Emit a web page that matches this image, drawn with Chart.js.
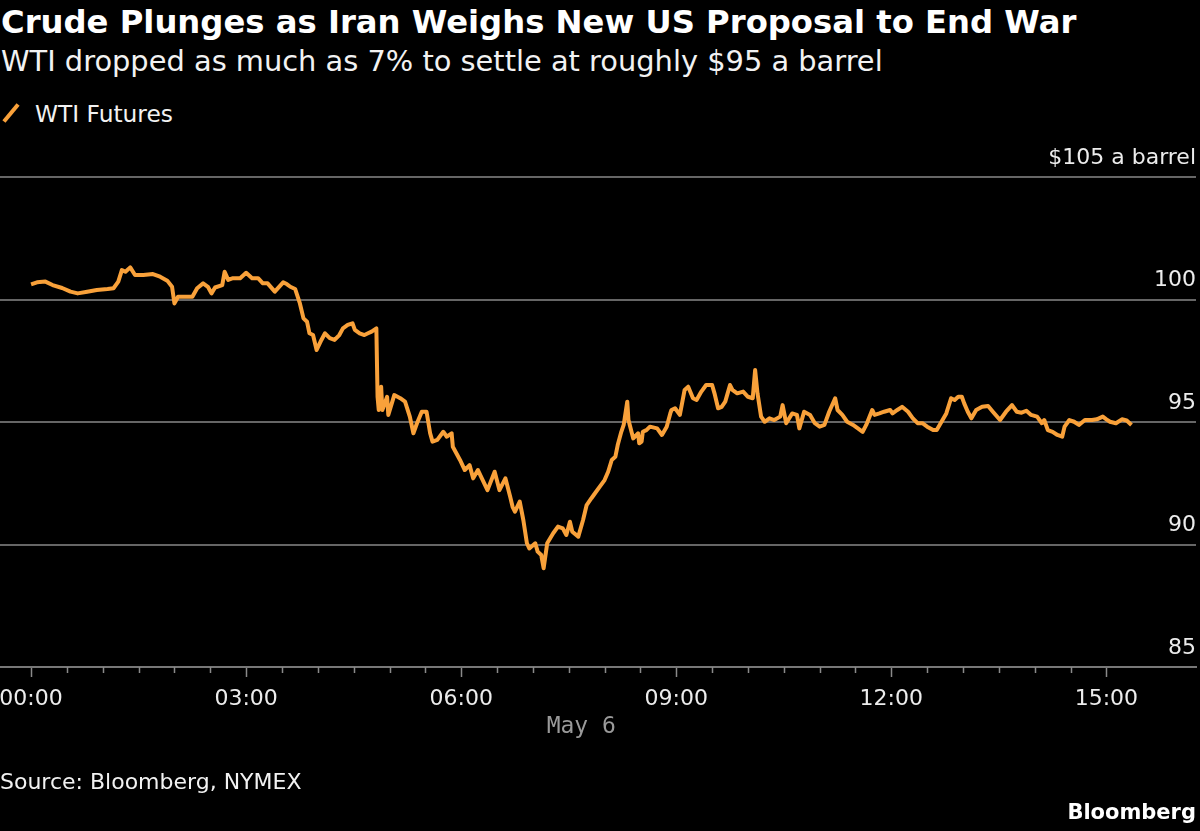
<!DOCTYPE html>
<html>
<head>
<meta charset="utf-8">
<script src="https://cdn.jsdelivr.net/npm/chart.js@4.4.1/dist/chart.umd.min.js"></script>
<style>
  body { margin:0; background:#000; width:1200px; height:831px; overflow:hidden; position:relative; font-family:"DejaVu Sans", sans-serif; color:#fff; }
  #wrap { position:absolute; left:0; top:0; width:1200px; height:831px; }
  .txt { position:absolute; white-space:nowrap; line-height:1; }
  #title { left:1px; top:6px; font-size:30px; font-weight:700; color:#fff; }
  #subtitle { left:1px; top:47px; font-size:25px; color:#f2f2f2; }
  #legend { left:35px; top:102px; font-size:21px; color:#f2f2f2; }
  #legendMark { position:absolute; left:9px; top:102px; width:4px; height:22px; background:#f9a13a; transform:rotate(40deg); }
  #source { left:0px; top:771px; font-size:22px; color:#f2f2f2; }
  #brand { right:4px; top:802px; font-size:21px; font-weight:700; color:#fff; }
</style>
</head>
<body>
<div class="txt" id="title">Crude Plunges as Iran Weighs New US Proposal to End War</div>
<div class="txt" id="subtitle">WTI dropped as much as 7% to settle at roughly $95 a barrel</div>
<div id="legendMark"></div>
<div class="txt" id="legend">WTI Futures</div>
<div id="wrap"><canvas id="graph"></canvas></div>
<div class="txt" id="source">Source: Bloomberg, NYMEX</div>
<div class="txt" id="brand">Bloomberg</div>
<script>
/*********************************** Data ***********************************/
// minutes after midnight, May 6
const timesMin = [0,5,12,18,26,33,39,47,55,64,69,73,76,79,83,87,94,102,108,114,118,120,123,127,135,139,144,148,151,154,160,162,165,169,175,180,185,190,194,198,204,211,214,217,221,
  225,228,231,233,236,239,243,246,250,254,258,261,265,269,271,275,279,282,285,289,290,291,293,294,298,299,304,309,313,317,320,323,327,331,334,336,340,345,348,352,353,359,363,367,370,374,378,382,388,392,397,401,403,405,409,412,415,417,422,424,427,429,432,437,441,445,448,451,453,458,
  462,465,469,472,476,480,483,486,489,491,494,496,499,500,504,508,509,511,512,515,518,524,528,532,535,536,539,543,547,550,554,557,561,565,570,572,575,578,581,585,587,591,596,600,604,606,608,611,614,618,622,627,629,632,637,641,643,647,652,656,660,664,668,673,675,679,683,688,692,696,699,
  704,706,710,714,719,721,725,729,734,738,742,746,750,755,758,762,766,770,773,776,779,781,784,787,791,796,801,805,811,816,821,825,829,833,837,842,846,848,851,855,859,863,865,869,873,877,882,888,892,897,900,903,908,913,917,921];
const wtiPrice = [100.62,100.70,100.73,100.59,100.47,100.32,100.25,100.32,100.39,100.43,100.46,100.73,101.20,101.13,101.31,101.00,101.00,101.04,100.93,100.77,100.52,99.84,100.11,100.11,100.11,100.46,100.66,100.52,100.25,100.49,100.59,101.13,100.80,100.87,100.87,101.09,100.87,100.87,100.66,100.66,100.32,100.70,100.63,100.52,100.43,
  99.84,99.23,99.09,98.62,98.55,97.94,98.35,98.62,98.42,98.35,98.55,98.82,98.96,99.03,98.76,98.62,98.55,98.62,98.69,98.82,96.03,95.49,96.44,95.49,96.03,95.29,96.10,95.97,95.83,95.22,94.54,94.95,95.42,95.42,94.54,94.20,94.27,94.60,94.40,94.54,93.99,93.45,93.04,93.24,92.70,93.04,92.63,92.22,92.97,92.22,92.70,91.95,91.54,91.34,91.75,91.00,90.05,89.84,90.05,89.71,89.57,89.03,90.05,90.46,90.73,90.66,90.39,90.93,90.52,90.32,
  91.00,91.61,91.89,92.09,92.36,92.63,92.97,93.45,93.58,94.06,94.60,94.88,95.83,95.08,94.33,94.54,94.13,94.20,94.60,94.67,94.81,94.74,94.47,94.81,95.35,95.49,95.56,95.29,96.31,96.44,95.97,95.90,96.24,96.51,96.51,96.17,95.56,95.62,95.83,96.51,96.31,96.17,96.24,96.03,95.97,97.12,96.17,95.22,95.01,95.15,95.08,95.22,95.69,94.95,95.35,95.29,94.74,95.42,95.29,94.95,94.81,94.88,95.42,95.97,95.49,95.29,95.01,94.88,94.74,94.60,94.88,
  95.49,95.29,95.35,95.42,95.49,95.35,95.49,95.62,95.42,95.15,94.95,94.95,94.81,94.67,94.67,95.01,95.35,95.97,95.90,96.03,96.03,95.76,95.42,95.15,95.49,95.62,95.65,95.42,95.08,95.42,95.69,95.42,95.38,95.46,95.29,95.22,94.95,95.08,94.67,94.60,94.47,94.40,94.81,95.08,95.01,94.88,95.08,95.08,95.11,95.22,95.11,95.01,94.95,95.11,95.06,94.88];

const xMajorTicks = [0,180,360,540,720,900];
const xTickLabels = ['00:00','03:00','06:00','09:00','12:00','15:00'];
const dateLabel = 'May 6';
const yTickValues = [85,90,95,100,105];
const yTickLabels = ['85','90','95','100','$105 a barrel'];

/*********************************** Fit header text widths ***********************************/
const fitWidth = (id, target) => {
  let el = document.getElementById(id);
  let size = parseFloat(getComputedStyle(el).fontSize);
  el.style.fontSize = (size * target / el.getBoundingClientRect().width) + 'px';
};
fitWidth('title', 1076);
fitWidth('subtitle', 882);
fitWidth('legend', 138);

/*********************************** Plugin: labels and minor ticks ***********************************/
const extrasPlugin = {
  id: 'extras',
  afterDraw(chart) {
    const ctx = chart.ctx;
    const xs = chart.scales.x, ys = chart.scales.y;
    const area = chart.chartArea;
    ctx.save();
    // y labels sit above their gridline, right aligned
    ctx.font = '22px "DejaVu Sans"';
    ctx.fillStyle = '#ececec';
    ctx.textAlign = 'right';
    ctx.textBaseline = 'middle';
    for (let i = 0; i < yTickValues.length; i++) {
      ctx.fillText(yTickLabels[i], area.right, ys.getPixelForValue(yTickValues[i]) - 19);
    }
    // half hour and hour ticks between the labelled ones
    ctx.strokeStyle = '#8a8a8a';
    ctx.lineWidth = 1.5;
    for (let m = 30; m < 900; m += 30) {
      if (m % 180 === 0) continue;
      const px = Math.round(xs.getPixelForValue(m)) + 0.5;
      ctx.beginPath();
      ctx.moveTo(px, area.bottom);
      ctx.lineTo(px, area.bottom + 6);
      ctx.stroke();
    }
    // date under the data span
    const first = timesMin[0], last = timesMin[timesMin.length - 1];
    ctx.font = '23px "DejaVu Sans Mono"';
    ctx.fillStyle = '#9a9a9a';
    ctx.textAlign = 'center';
    ctx.fillText(dateLabel, xs.getPixelForValue((first + last) / 2), 727);
    ctx.restore();
  }
};

/*********************************** Chart ***********************************/
const points = timesMin.map((t, i) => ({x: t, y: wtiPrice[i]}));
const ctx = document.getElementById('graph');
new Chart(ctx, {
  type: 'line',
  data: {
    datasets: [{
      label: 'WTI Futures',
      data: points,
      borderColor: '#f9a13a',
      borderWidth: 4,
      pointRadius: 0,
      tension: 0,
      borderJoinStyle: 'round'
    }]
  },
  options: {
    responsive: true,
    maintainAspectRatio: false,
    animation: false,
    layout: { padding: { top: 177, bottom: 104, left: 0, right: 4 } },
    plugins: { legend: { display: false }, tooltip: { enabled: false } },
    scales: {
      x: {
        type: 'linear',
        min: -26,
        max: 975,
        afterBuildTicks: (scale) => { scale.ticks = xMajorTicks.map(v => ({value: v})); },
        afterFit: (scale) => { scale.height = 60; scale.paddingLeft = 0; scale.paddingRight = 0; },
        ticks: {
          autoSkip: false,
          maxRotation: 0,
          padding: 9,
          color: '#ececec',
          font: { family: 'DejaVu Sans', size: 22 },
          callback: (v) => xTickLabels[xMajorTicks.indexOf(v)]
        },
        grid: { display: true, drawOnChartArea: false, drawTicks: true, tickLength: 10, tickColor: '#8a8a8a', tickWidth: 1.5 },
        border: { display: true, color: '#777', width: 2 }
      },
      y: {
        position: 'right',
        min: 85,
        max: 105,
        afterBuildTicks: (scale) => { scale.ticks = yTickValues.map(v => ({value: v})); },
        afterFit: (scale) => { scale.width = 0; },
        ticks: { display: false },
        grid: { color: '#666', lineWidth: 2, drawTicks: false },
        border: { display: false }
      }
    }
  },
  plugins: [extrasPlugin]
});
</script>
</body>
</html>
